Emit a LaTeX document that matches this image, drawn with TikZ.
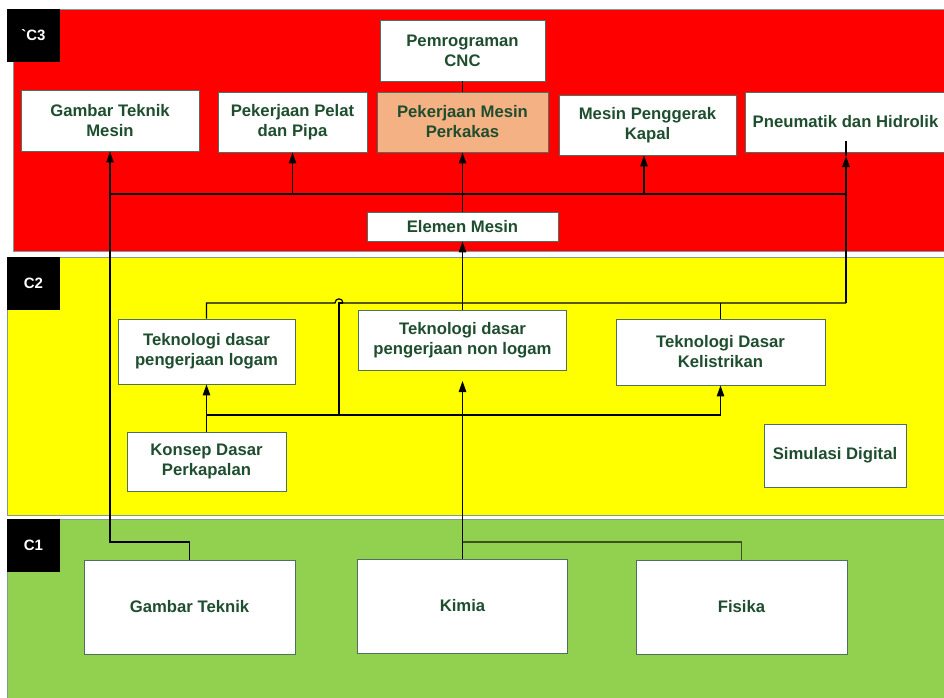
\documentclass[tikz,border=0pt]{standalone}
\usepackage{fontspec}
\setmainfont{Liberation Sans}
\usetikzlibrary{arrows.meta}
\definecolor{bandred}{HTML}{FF0000}
\definecolor{bandyel}{HTML}{FFFF00}
\definecolor{bandgrn}{HTML}{92D050}
\definecolor{boxorange}{HTML}{F4B183}
\definecolor{txtgreen}{HTML}{1F4E2F}
\definecolor{edgegray}{HTML}{4F6F5F}
\definecolor{linkgreen}{HTML}{3B5323}
\begin{document}
\begin{tikzpicture}[x=1pt,y=-1pt,
  box/.style={draw=edgegray, line width=0.9pt, fill=white, align=center, inner sep=2pt,
              font=\fontsize{16.7}{20}\selectfont\bfseries, text=txtgreen},
  band/.style={draw=edgegray!70, line width=0.8pt},
  tag/.style={fill=black, text=white, font=\fontsize{15}{18}\selectfont\bfseries,
              minimum width=53pt, minimum height=53pt, inner sep=0pt},
  arr/.style={line width=1.2pt, -{Triangle[length=11pt,width=7.5pt]}},
  link/.style={line width=1.2pt}
]
\useasboundingbox (0,0) rectangle (944,697);
\fill[white] (0,0) rectangle (944,697);
% bands
\path[band, fill=bandred] (13,9) rectangle (950,251);
\path[band, fill=bandyel] (7,257) rectangle (950,515);
\path[band, fill=bandgrn] (7,519) rectangle (950,703);
% tags
\node[tag] (t3) at (33.5,35.5) {\textasciigrave C3};
\node[tag] (t2) at (33.5,283.5) {C2};
\node[tag] (t1) at (33.5,545.5) {C1};

% coordinates
\coordinate (busL) at (110,194);
\coordinate (busR) at (846,194);
\coordinate (pgx) at (644,194);
\coordinate (j1) at (110,542);
\coordinate (hopA) at (335,303);
\coordinate (hopC) at (339,303);
\coordinate (hopB) at (343,303);
\coordinate (rbus) at (846,303);
\coordinate (ptip) at (846,156);
\coordinate (ptop) at (846,141);
\coordinate (lb) at (206.5,415);
\coordinate (lbv) at (339,415);
\coordinate (kimtip) at (462.5,381);

% C3 nodes
\node[box, minimum width=165, minimum height=61] (cnc) at (462.5,50.5) {Pemrograman\\CNC};
\node[box, minimum width=178, minimum height=61] (gtm) at (110,120.5) {Gambar Teknik\\Mesin};
\node[box, minimum width=149, minimum height=60] (pelat) at (292.5,122) {Pekerjaan Pelat\\dan Pipa};
\node[box, minimum width=171, minimum height=60, fill=boxorange] (perkakas) at (462.5,122) {Pekerjaan Mesin\\Perkakas};
\node[box, minimum width=177, minimum height=60] (penggerak) at (647.5,125) {Mesin Penggerak\\Kapal};
\node[box, minimum width=201, minimum height=60] (pneu) at (845.5,122) {Pneumatik dan Hidrolik};
\node[box, minimum width=191, minimum height=29] (elemen) at (462.5,226.5) {Elemen Mesin};
% C2 nodes
\node[box, minimum width=177, minimum height=65] (logam) at (206.5,351.5) {Teknologi dasar\\pengerjaan logam};
\node[box, minimum width=208, minimum height=60] (nonlogam) at (462.5,340) {Teknologi dasar\\pengerjaan non logam};
\node[box, minimum width=209, minimum height=66] (listrik) at (720.5,352) {Teknologi Dasar\\Kelistrikan};
\node[box, minimum width=159, minimum height=59] (konsep) at (206.5,461.5) {Konsep Dasar\\Perkapalan};
\node[box, minimum width=142, minimum height=63] (simulasi) at (835,455.5) {Simulasi Digital};
% C1 nodes
\node[box, minimum width=211, minimum height=94] (gt) at (189.5,607) {Gambar Teknik};
\node[box, minimum width=210, minimum height=94] (kimia) at (462.5,606) {Kimia};
\node[box, minimum width=211, minimum height=94] (fisika) at (741.5,607) {Fisika};

% connectors
\begin{scope}[on background layer/.style={}]
\draw[arr] (gt.north) |- (j1) -- (gtm.south);
\draw[link] (busL) -- (busR);
\draw[arr] (pelat.south |- busL) -- (pelat.south);
\draw[arr] (elemen.north) -- (perkakas.south);
\draw[arr] (pgx) -- (pgx |- penggerak.south);
\draw[link] (cnc.south) -- (perkakas.north);
\draw[arr] (nonlogam.north) -- (elemen.south);
\draw[link] (logam.north) |- (hopA) .. controls (335,297.5) and (343,297.5) .. (hopB) -- (rbus);
\draw[arr] (rbus) -- (ptip);
\draw[link] (ptip) -- (ptop);
\draw[link] (listrik.north) -- (listrik.north |- rbus);
\draw[arr] (konsep.north) -- (logam.south);
\draw[arr] (lb) -| (listrik.south);
\draw[link] (lbv) -- (hopC) -- (hopB);
\draw[arr] (kimia.north) -- (kimtip);
\draw[link, draw=linkgreen] (kimia.north |- j1) -| (fisika.north);
\end{scope}
\end{tikzpicture}
\end{document}
